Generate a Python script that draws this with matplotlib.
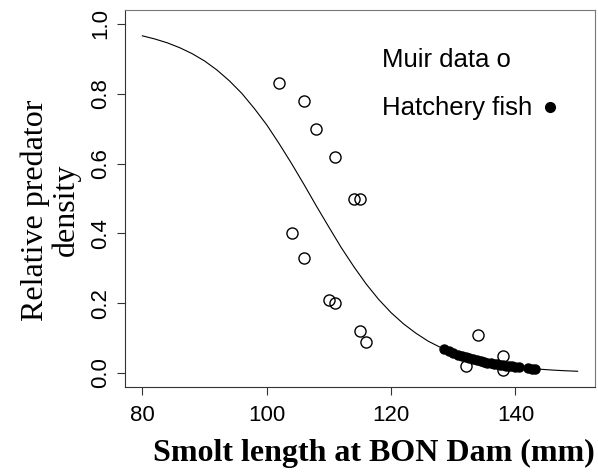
import matplotlib
matplotlib.use("Agg")
import matplotlib.pyplot as plt

# Fitted curve
curve_len = [80, 82, 84, 86, 88, 90, 92, 94, 96, 98, 100, 102, 104, 106, 108,
             110, 112, 114, 116, 118, 120, 122, 124, 126, 128, 130, 132, 134,
             136, 138, 140, 142, 144, 146, 148, 150]
curve_dens = [0.966, 0.957, 0.946, 0.932, 0.915, 0.894, 0.868, 0.837, 0.801,
              0.758, 0.711, 0.657, 0.600, 0.540, 0.478, 0.418, 0.359, 0.305,
              0.255, 0.211, 0.173, 0.141, 0.114, 0.091, 0.073, 0.058, 0.046,
              0.036, 0.028, 0.022, 0.018, 0.014, 0.011, 0.0085, 0.0066, 0.0052]

# Muir data (open circles)
muir_len = [102, 106, 108, 111, 114, 115, 104, 106, 110, 111, 115, 116,
            134, 132, 138, 138]
muir_dens = [0.83, 0.78, 0.70, 0.62, 0.50, 0.50, 0.40, 0.33, 0.21, 0.20,
             0.12, 0.09, 0.11, 0.02, 0.05, 0.01]

# Hatchery fish (filled dots)
hatch_len = [128.5, 129.3, 130, 130.7, 131.4, 132, 132.6, 133.2, 133.8, 134.4,
             135, 135.5, 136, 136.5, 137, 137.5, 138, 138.5, 139, 139.5, 140,
             140.5, 142, 142.6, 143.2]
hatch_dens = [0.069, 0.063, 0.058, 0.053, 0.049, 0.046, 0.043, 0.040, 0.037,
              0.034, 0.032, 0.030, 0.029, 0.027, 0.025, 0.024, 0.022, 0.021,
              0.020, 0.019, 0.018, 0.017, 0.014, 0.013, 0.012]

sans = "Liberation Sans"
serif = "Liberation Serif"

fig = plt.figure(figsize=(5.98, 4.74), dpi=100)
ax = fig.add_axes([0.209, 0.1835, 0.786, 0.7954])

ax.plot(curve_len, curve_dens, color="black", linewidth=0.8)
ax.plot(muir_len, muir_dens, linestyle="none", marker="o", markersize=8,
        markerfacecolor="none", markeredgecolor="black", markeredgewidth=1.0)
ax.plot(hatch_len, hatch_dens, linestyle="none", marker="o", markersize=6.5,
        color="black")

ax.set_xlim(77.2, 152.8)
ax.set_ylim(-0.04, 1.04)
ax.set_xticks([80, 100, 120, 140])
ax.set_yticks([0.0, 0.2, 0.4, 0.6, 0.8, 1.0])
ax.set_yticklabels(["0.0", "0.2", "0.4", "0.6", "0.8", "1.0"])
ax.tick_params(axis="both", length=6, width=0.8, color="#333333", labelsize=16)
ax.tick_params(axis="x", pad=7)
ax.tick_params(axis="y", pad=4)
for lab in ax.get_xticklabels() + ax.get_yticklabels():
    lab.set_fontfamily(sans)
plt.setp(ax.get_yticklabels(), rotation=90, va="center")

for side in ["left", "bottom"]:
    ax.spines[side].set_color("#333333")
for side in ["top", "right"]:
    ax.spines[side].set_color("#777777")

# legend-like text
ax.text(0.547, 0.848, "Muir data o", transform=ax.transAxes, fontsize=18.5,
        family=sans, va="baseline")
ax.text(0.547, 0.7215, "Hatchery fish", transform=ax.transAxes, fontsize=18.5,
        family=sans, va="baseline")
ax.plot([0.904], [0.7435], transform=ax.transAxes, marker="o", markersize=7,
        color="black", clip_on=False)

fig.text(0.6246, 0.027, "Smolt length at BON Dam (mm)", fontsize=23,
         family=serif, weight="bold", ha="center", va="baseline")
fig.text(0.085, 0.557, "Relative predator\ndensity", fontsize=23,
         family=serif, rotation=90, ha="center", va="center", linespacing=1.05)

fig.savefig("out.png", dpi=100)
